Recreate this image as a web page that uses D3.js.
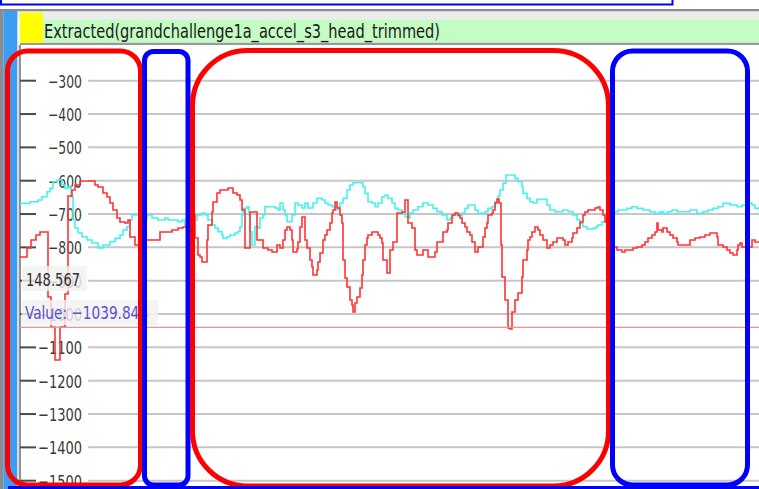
<!DOCTYPE html>
<html><head><meta charset="utf-8">
<script src="https://cdn.jsdelivr.net/npm/d3@7"></script>
<style>body{margin:0;background:#fff;overflow:hidden}svg{display:block}</style>
</head><body>
<svg id="c" width="759" height="489"></svg>
<script>
const title = "Extracted(grandchallenge1a_accel_s3_head_trimmed)";
const tickValues = [-300,-400,-500,-600,-700,-800,-900,-1000,-1100,-1200,-1300,-1400,-1500];
const cursorTime = "148.567";
const cursorValue = -1039.844;
// [sample, value]
const redSeries = [[0,-829],[7,-802],[11,-778],[16,-763],[20,-754],[28,-949],[31,-1039],[35,-1138],[40,-1039],[45,-940],[48,-646],[52,-628],[55,-613],[60,-601],[75,-613],[78,-619],[83,-637],[87,-649],[90,-667],[93,-688],[97,-712],[100,-724],[105,-727],[108,-718],[110,-769],[115,-793],[125,-778],[140,-754],[152,-748],[158,-742],[163,-739],[168,-733],[172,-703],[175,-772],[178,-823],[180,-829],[182,-844],[187,-778],[188,-733],[192,-694],[193,-664],[197,-637],[200,-628],[208,-622],[213,-637],[217,-643],[220,-658],[222,-688],[225,-802],[230,-694],[237,-778],[243,-802],[248,-808],[252,-814],[257,-793],[260,-802],[263,-778],[265,-748],[267,-739],[270,-748],[272,-778],[273,-814],[277,-805],[278,-784],[280,-739],[282,-709],[285,-778],[287,-802],[290,-838],[292,-859],[293,-883],[297,-868],[298,-844],[300,-817],[303,-778],[305,-763],[307,-748],[310,-727],[312,-697],[313,-688],[315,-664],[317,-682],[320,-703],[322,-727],[323,-838],[325,-892],[327,-919],[330,-958],[332,-973],[333,-994],[335,-967],[337,-949],[340,-922],[342,-883],[343,-838],[345,-793],[347,-772],[348,-763],[352,-754],[358,-763],[360,-772],[362,-787],[363,-838],[367,-877],[370,-808],[373,-784],[377,-697],[382,-694],[385,-658],[388,-727],[392,-742],[395,-808],[397,-823],[403,-808],[408,-829],[415,-814],[417,-784],[423,-754],[427,-748],[428,-727],[432,-703],[435,-697],[438,-703],[440,-712],[442,-727],[445,-739],[447,-754],[450,-763],[452,-784],[455,-814],[458,-799],[463,-769],[465,-742],[467,-727],[468,-703],[472,-697],[473,-688],[475,-667],[477,-655],[479,-667],[481,-793],[482,-889],[485,-958],[488,-1042],[490,-1045],[492,-994],[495,-958],[498,-937],[502,-889],[503,-838],[507,-808],[508,-778],[510,-769],[512,-754],[515,-739],[518,-748],[520,-763],[523,-778],[527,-802],[530,-793],[533,-784],[537,-772],[543,-778],[545,-793],[548,-784],[552,-772],[553,-757],[557,-742],[560,-724],[563,-703],[565,-694],[568,-688],[575,-682],[578,-679],[580,-688],[583,-703],[585,-724],[587,-742],[588,-772],[593,-799],[597,-808],[602,-814],[605,-808],[613,-802],[617,-799],[622,-793],[625,-784],[628,-772],[632,-763],[635,-754],[637,-727],[638,-748],[642,-754],[643,-742],[647,-754],[650,-763],[653,-772],[657,-784],[658,-793],[670,-778],[675,-772],[680,-769],[685,-763],[690,-757],[697,-769],[698,-793],[703,-799],[707,-808],[710,-817],[713,-823],[717,-808],[718,-793],[720,-787],[722,-799],[732,-778],[735,-784],[739,-784]];
const cyanSeries = [[0,-668],[10,-663],[18,-658],[22,-648],[27,-633],[30,-623],[33,-603],[37,-598],[42,-613],[45,-623],[48,-618],[51,-648],[53,-718],[55,-742],[58,-757],[62,-768],[67,-778],[72,-787],[78,-802],[83,-793],[90,-783],[95,-773],[100,-763],[103,-748],[107,-738],[110,-718],[112,-703],[122,-712],[127,-703],[132,-712],[138,-718],[145,-712],[148,-718],[158,-723],[162,-718],[165,-733],[168,-712],[173,-718],[177,-703],[182,-697],[185,-703],[188,-718],[192,-733],[195,-742],[198,-753],[202,-763],[203,-773],[207,-768],[210,-763],[215,-757],[218,-753],[220,-738],[222,-703],[223,-683],[227,-678],[229,-703],[230,-753],[232,-793],[235,-738],[238,-742],[240,-712],[243,-703],[245,-678],[255,-682],[258,-688],[260,-667],[263,-688],[265,-703],[267,-723],[272,-703],[275,-667],[278,-673],[282,-682],[285,-667],[288,-682],[293,-667],[297,-653],[302,-658],[305,-667],[308,-673],[312,-678],[315,-688],[318,-678],[320,-667],[323,-653],[327,-628],[330,-613],[333,-606],[343,-618],[345,-638],[348,-663],[352,-667],[355,-678],[358,-667],[362,-648],[365,-643],[368,-653],[372,-667],[375,-683],[378,-688],[382,-697],[385,-708],[388,-712],[390,-697],[393,-688],[398,-678],[403,-667],[408,-673],[413,-683],[417,-693],[422,-703],[427,-718],[430,-712],[433,-703],[438,-706],[442,-697],[445,-683],[448,-673],[455,-688],[458,-698],[465,-693],[468,-683],[472,-678],[475,-663],[478,-646],[480,-628],[483,-608],[486,-583],[495,-593],[498,-603],[502,-618],[503,-638],[507,-653],[510,-663],[513,-667],[517,-656],[527,-673],[530,-688],[535,-693],[543,-688],[548,-693],[553,-703],[557,-718],[560,-728],[563,-738],[567,-745],[573,-743],[576,-738],[578,-733],[582,-723],[585,-708],[588,-698],[593,-693],[598,-688],[607,-683],[612,-678],[617,-683],[623,-688],[630,-693],[635,-698],[640,-693],[643,-698],[648,-693],[652,-688],[657,-693],[670,-688],[677,-698],[683,-693],[688,-688],[693,-683],[698,-678],[703,-668],[710,-673],[717,-678],[722,-673],[727,-668],[732,-673],[735,-683],[739,-678]];

const svg = d3.select("#c");
const W = 759, H = 489;
const x = d3.scaleLinear().domain([0, 739]).range([20, 759]);
const y = d3.scaleLinear().domain([-300, -1500]).range([80.7, 480.7]);
const narrow = "'Liberation Sans Narrow','DejaVu Sans Condensed','Arial Narrow',sans-serif";

svg.append("rect").attr("width", W).attr("height", H).attr("fill", "#fff");
// top window frame
svg.append("rect").attr("x", 1).attr("y", -6).attr("width", 671.5).attr("height", 10.5)
  .attr("fill", "#fff").attr("stroke", "#0000ff").attr("stroke-width", 2);
// header bars
svg.append("rect").attr("x", 0).attr("y", 9).attr("width", W).attr("height", 2.5).attr("fill", "#8a8a8a");
svg.append("rect").attr("x", 0).attr("y", 11.5).attr("width", W).attr("height", 8).attr("fill", "#ececec");
svg.append("rect").attr("x", 20).attr("y", 19.3).attr("width", W - 20).attr("height", 23.5).attr("fill", "#c4fcc4");
svg.append("rect").attr("x", 20).attr("y", 42.8).attr("width", W - 20).attr("height", 2.2).attr("fill", "#9a9a9a");
svg.append("rect").attr("x", 20).attr("y", 12.7).attr("width", 23).attr("height", 30.1).attr("fill", "#ffff00");
svg.append("text").attr("x", 44).attr("y", 37.5).attr("font-family", narrow).attr("font-size", 19)
  .attr("fill", "#1a1a1a").attr("textLength", 396).attr("lengthAdjust", "spacingAndGlyphs").text(title);

// left strip
svg.append("rect").attr("x", 0).attr("y", 11).attr("width", 3.3).attr("height", H).attr("fill", "#8c8c8c");
svg.append("rect").attr("x", 3.3).attr("y", 11).attr("width", 14).attr("height", H).attr("fill", "#3d9df2");
svg.append("rect").attr("x", 17.3).attr("y", 45).attr("width", 2).attr("height", H).attr("fill", "#dcdcdc");
svg.append("rect").attr("x", 19.2).attr("y", 45).attr("width", 1.6).attr("height", H).attr("fill", "#7a7a7a");

// grid + ticks
const g = svg.append("g");
g.selectAll("line.grid").data(tickValues).join("line").attr("class", "grid")
  .attr("x1", 88).attr("x2", W).attr("y1", d => y(d)).attr("y2", d => y(d))
  .attr("stroke", "#c6c6c6").attr("stroke-width", 2);
g.selectAll("line.tick").data(tickValues).join("line").attr("class", "tick")
  .attr("x1", 20).attr("x2", 36).attr("y1", d => y(d)).attr("y2", d => y(d))
  .attr("stroke", "#4a4a4a").attr("stroke-width", 2);
g.selectAll("text.lbl").data(tickValues).join("text").attr("class", "lbl")
  .attr("x", 82).attr("y", d => y(d) + 7).attr("text-anchor", "end")
  .attr("font-family", narrow).attr("font-size", 18).attr("fill", "#3a3a3a")
  .attr("textLength", d => String(Math.abs(d)).length === 3 ? 34 : 44)
  .attr("lengthAdjust", "spacingAndGlyphs")
  .text(d => "\u2212" + Math.abs(d));

// series
svg.append("clipPath").attr("id", "pc").append("rect").attr("x", 20).attr("y", 45).attr("width", W - 20).attr("height", H - 45);
const line = d3.line().x(d => x(d[0])).y(d => y(d[1])).curve(d3.curveStepAfter);
const sg = svg.append("g").attr("clip-path", "url(#pc)");
sg.append("path").attr("d", line(cyanSeries)).attr("fill", "none").attr("stroke", "#44f2f2").attr("stroke-width", 1.6);
sg.append("path").attr("d", line(redSeries)).attr("fill", "none").attr("stroke", "#ff3232").attr("stroke-width", 1.6);
// cursor value line
sg.append("line").attr("x1", 20).attr("x2", W).attr("y1", y(cursorValue)).attr("y2", y(cursorValue))
  .attr("stroke", "#ff8c8c").attr("stroke-width", 1.3);

// cursor boxes
svg.append("rect").attr("x", 22).attr("y", 266).attr("width", 65).attr("height", 25).attr("fill", "#f2f2f2").attr("opacity", 0.82);
svg.append("text").attr("x", 26).attr("y", 285.5).attr("font-family", narrow).attr("font-size", 18)
  .attr("fill", "#2e2e2e").attr("textLength", 54).attr("lengthAdjust", "spacingAndGlyphs").text(cursorTime);
svg.append("rect").attr("x", 21.5).attr("y", 300).attr("width", 136.5).attr("height", 25).attr("fill", "#f2f2f2").attr("opacity", 0.82);
svg.append("text").attr("x", 25).attr("y", 319).attr("font-family", narrow).attr("font-size", 18)
  .attr("fill", "#5a4fd0").attr("textLength", 123).attr("lengthAdjust", "spacingAndGlyphs")
  .text("Value: " + "\u2212" + Math.abs(cursorValue).toFixed(3));

// annotation rounded boxes
const boxes = [
  {x0: 7.5, x1: 140.5, y0: 51, y1: 485, r: 20, c: "#ff0000"},
  {x0: 144.5, x1: 188, y0: 51.5, y1: 485, r: 9, c: "#0000ff"},
  {x0: 192.5, x1: 608.5, y0: 50.5, y1: 486, r: 55, c: "#ff0000"},
  {x0: 612.5, x1: 747.5, y0: 51, y1: 485, r: 20, c: "#0000ff"}
];
svg.selectAll("rect.ann").data(boxes).join("rect").attr("class", "ann")
  .attr("x", d => d.x0).attr("y", d => d.y0).attr("width", d => d.x1 - d.x0).attr("height", d => d.y1 - d.y0)
  .attr("rx", d => d.r).attr("ry", d => d.r).attr("fill", "none").attr("stroke", d => d.c).attr("stroke-width", 5);
svg.append("rect").attr("x", 8).attr("y", 486).attr("width", W).attr("height", 3).attr("fill", "#0000ff");
</script>
</body></html>
